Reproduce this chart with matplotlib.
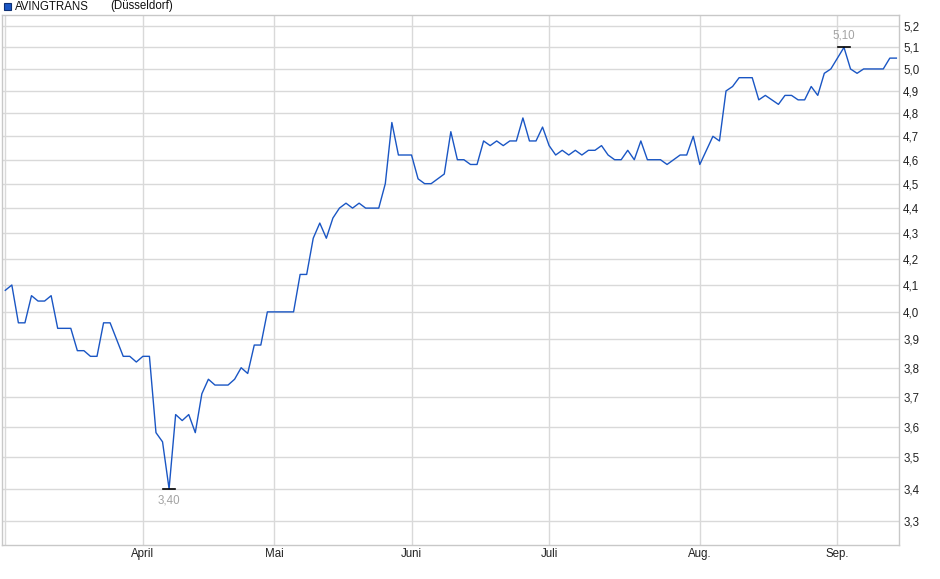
import matplotlib.pyplot as plt
from matplotlib.patches import Rectangle
from matplotlib.ticker import FixedLocator, NullLocator

plt.rcParams['font.family'] = ['Liberation Sans', 'DejaVu Sans']

# Kurs pro Handelstag (Düsseldorf)
prices = [4.08, 4.10, 3.96, 3.96, 4.06, 4.04, 4.04, 4.06, 3.94, 3.94,
          3.94, 3.86, 3.86, 3.84, 3.84, 3.96, 3.96, 3.90, 3.84, 3.84,
          3.82, 3.84, 3.84, 3.58, 3.55, 3.40, 3.64, 3.62, 3.64, 3.58,
          3.71, 3.76, 3.74, 3.74, 3.74, 3.76, 3.80, 3.78, 3.88, 3.88,
          4.00, 4.00, 4.00, 4.00, 4.00, 4.14, 4.14, 4.28, 4.34, 4.28,
          4.36, 4.40, 4.42, 4.40, 4.42, 4.40, 4.40, 4.40, 4.50, 4.76,
          4.62, 4.62, 4.62, 4.52, 4.50, 4.50, 4.52, 4.54, 4.72, 4.60,
          4.60, 4.58, 4.58, 4.68, 4.66, 4.68, 4.66, 4.68, 4.68, 4.78,
          4.68, 4.68, 4.74, 4.66, 4.62, 4.64, 4.62, 4.64, 4.62, 4.64,
          4.64, 4.66, 4.62, 4.60, 4.60, 4.64, 4.60, 4.68, 4.60, 4.60,
          4.60, 4.58, 4.60, 4.62, 4.62, 4.70, 4.58, 4.64, 4.70, 4.68,
          4.90, 4.92, 4.96, 4.96, 4.96, 4.86, 4.88, 4.86, 4.84, 4.88,
          4.88, 4.86, 4.86, 4.92, 4.88, 4.98, 5.00, 5.05, 5.10, 5.00,
          4.98, 5.00, 5.00, 5.00, 5.00, 5.05, 5.05]

# erster Handelstag jedes Monats (Index in prices)
month_idx = [21, 41, 62, 83, 106, 127]
month_labels = ['April', 'Mai', 'Juni', 'Juli', 'Aug.', 'Sep.']

y_ticks = [3.3, 3.4, 3.5, 3.6, 3.7, 3.8, 3.9, 4.0, 4.1, 4.2,
           4.3, 4.4, 4.5, 4.6, 4.7, 4.8, 4.9, 5.0, 5.1, 5.2]

grid_col = '#d9d9d9'
line_col = '#1a56c4'

fig = plt.figure(figsize=(9.4, 5.79), dpi=100)
ax = fig.add_axes([2 / 940, 1 - 545 / 579, 897 / 940, 530 / 579])

x = list(range(len(prices)))
ax.plot(x, prices, color=line_col, lw=1.0, zorder=3)

ax.set_yscale('log')
ax.set_ylim(3.229, 5.254)
ax.set_xlim(-0.5, 136.4)

ax.yaxis.set_major_locator(FixedLocator(y_ticks))
ax.yaxis.set_minor_locator(NullLocator())
ax.set_yticklabels([f'{t:.1f}'.replace('.', ',') for t in y_ticks])
ax.yaxis.tick_right()

ax.set_xticks(month_idx)
ax.set_xticklabels(month_labels)

ax.grid(True, color=grid_col, lw=1.0)
ax.axvline(0, color=grid_col, lw=1.0, zorder=1)
ax.set_axisbelow(True)

for s in ax.spines.values():
    s.set_color('#c8c8c8')
    s.set_linewidth(1.0)

ax.tick_params(axis='y', length=0, pad=3, labelsize=8.3, labelcolor='#222222')
ax.tick_params(axis='x', length=0, pad=2, labelsize=8.3, labelcolor='#222222')

# Tief und Hoch markieren
i_min = prices.index(min(prices))
i_max = prices.index(max(prices))
for i, off, va in [(i_min, -4, 'top'), (i_max, 4, 'bottom')]:
    v = prices[i]
    ax.plot([i - 0.9, i + 0.9], [v, v], color='black', lw=1.2, zorder=4)
    ax.annotate(f'{v:.2f}'.replace('.', ','), (i, v), xytext=(0, off),
                textcoords='offset points', ha='center', va=va,
                fontsize=8.3, color='#a3a3a3')

# Legende oben links
fig.patches.append(Rectangle((4 / 940, 1 - 10 / 579), 7 / 940, 7 / 579,
                             transform=fig.transFigure, facecolor=line_col,
                             edgecolor='#0d2f73', lw=0.8))
fig.text(15 / 940, 1 - 6.5 / 579, 'AVINGTRANS', fontsize=8.3, va='center', color='#111111')
fig.text(110 / 940, 1 - 6.5 / 579, '(Düsseldorf)', fontsize=8.3, va='center', color='#111111')

fig.savefig('out.png', dpi=100)
